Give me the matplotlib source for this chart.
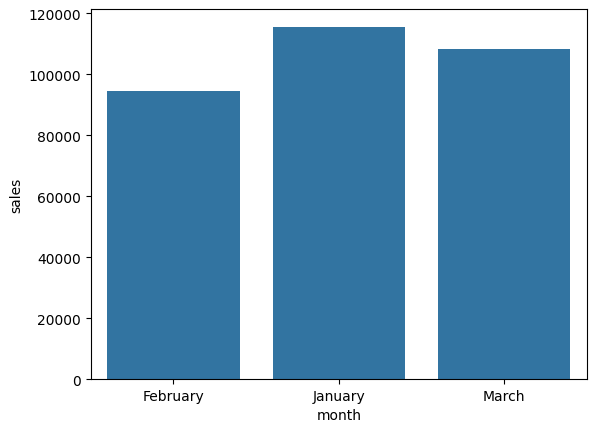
import matplotlib
matplotlib.use('Agg')
import matplotlib.pyplot as plt
import pandas as pd
import seaborn as sns

months = ['February', 'January', 'March']
sales = [94700, 115700, 108200]

df = pd.DataFrame({'month': months, 'sales': sales})

fig = plt.figure(figsize=(5.97, 4.31), dpi=100)
ax = fig.add_subplot(111)
sns.barplot(data=df, x='month', y='sales', ax=ax)
fig.subplots_adjust(left=0.152, right=0.983, top=0.977, bottom=0.118)
fig.savefig('out.png', dpi=100)
